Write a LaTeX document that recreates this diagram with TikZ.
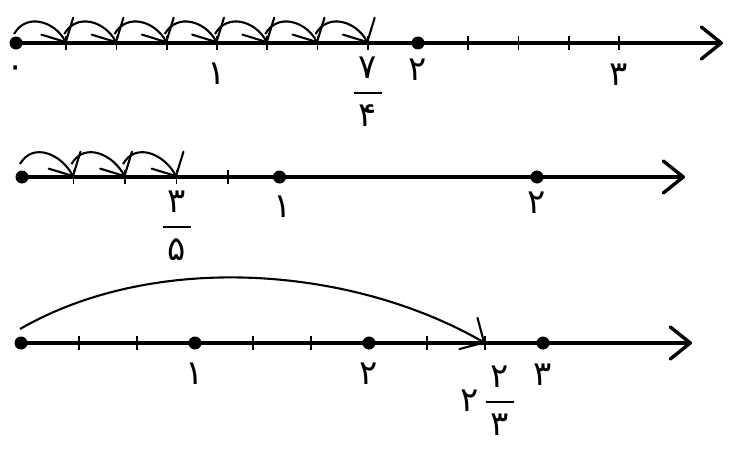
\documentclass[tikz,border=0pt]{standalone}
\usepackage{fontspec}
\newfontfamily\fa[Script=Arabic]{DejaVu Sans}
\usetikzlibrary{arrows.meta, positioning}
\newcommand{\pfrac}[2]{\vbox{\offinterlineskip
    \hbox to 28pt{\hss#1\hss}\kern14pt
    \hbox{\rule{28pt}{1.5pt}}\kern11pt
    \hbox to 28pt{\hss#2\hss}}}
\tikzset{
    axisline/.style={line width=3.4pt, -{Straight Barb[length=20pt, width=32pt, round]}},
    tickmark/.style={line width=1.8pt},
    dotmark/.style={circle, fill=black, inner sep=0pt, minimum size=13pt},
    hop/.style={line width=2.1pt, -{Straight Barb[length=18pt, width=36pt, round]}},
    numlbl/.style={font=\fa\fontsize{34}{40}\selectfont, inner sep=1pt},
    fraclbl/.style={numlbl, inner sep=0pt}
}
\begin{document}
\begin{tikzpicture}[x=1pt, y=1pt]
\useasboundingbox (0,0) rectangle (732,-450);

% first line: quarters from 0 to 3
\foreach \i in {0,...,12} \coordinate (a\i) at (16+50.25*\i,-43);
\coordinate (aend) at (723,-43);
\draw[axisline] (a0) -- (aend);
\foreach \i in {1,...,7,9,10,11,12} \draw[tickmark] ([yshift=7]a\i) -- ([yshift=-7]a\i);
\node[dotmark] (da0) at (a0) {};
\node[dotmark] (da8) at (a8) {};
\foreach \i [evaluate=\i as \j using int(\i+1)] in {0,...,6}
    \draw[hop] ([shift={(-2,9)}]a\i) to[out=60, in=118, looseness=1.2] (a\j);
\node[numlbl] (za) at ([yshift=-29]a0) {۰};
\node[numlbl] (onea) at ([yshift=-31]a4) {۱};
\node[numlbl] (twoa) at ([yshift=-27]a8) {۲};
\node[numlbl] (threea) at ([yshift=-32]a12) {۳};
\node[fraclbl] (sevenq) at ([yshift=-48.5]a7) {\pfrac{۷}{۴}};

% second line: fifths from 0 to 2
\foreach \i in {0,...,10} \coordinate (b\i) at (22+51.5*\i,-177);
\coordinate (bend) at (685,-177);
\draw[axisline] (b0) -- (bend);
\foreach \i in {1,...,4} \draw[tickmark] ([yshift=7]b\i) -- ([yshift=-7]b\i);
\foreach \i in {0,5,10} \node[dotmark] (db\i) at (b\i) {};
\foreach \i [evaluate=\i as \j using int(\i+1)] in {0,...,2}
    \draw[hop] ([shift={(-2,13)}]b\i) to[out=60, in=118, looseness=1.2] (b\j);
\node[fraclbl] (threefifths) at ([yshift=-48.5]b3) {\pfrac{۳}{۵}};
\node[numlbl] (oneb) at ([shift={(3,-30)}]b5) {۱};
\node[numlbl] (twob) at ([yshift=-26]b10) {۲};

% third line: thirds from 0 to 3
\foreach \i in {0,...,9} \coordinate (c\i) at (21+58*\i,-343);
\coordinate (cend) at (692,-343);
\draw[axisline] (c0) -- (cend);
\foreach \i in {1,2,4,5,7,8} \draw[tickmark] ([yshift=7]c\i) -- ([yshift=-7]c\i);
\foreach \i in {0,3,6,9} \node[dotmark] (dc\i) at (c\i) {};
\draw[hop] ([shift={(-1,14)}]c0) to[out=30, in=150, looseness=0.85] (c8);
\node[numlbl] (onec) at ([yshift=-31]c3) {۱};
\node[numlbl] (twoc) at ([yshift=-31]c6) {۲};
\node[numlbl] (threec) at ([yshift=-32]c9) {۳};
\node[fraclbl] (twothirds) at ([shift={(15,-57.5)}]c8) {\pfrac{۲}{۳}};
\node[numlbl, left=6pt of twothirds] (wholec) {۲};
\end{tikzpicture}
\end{document}
